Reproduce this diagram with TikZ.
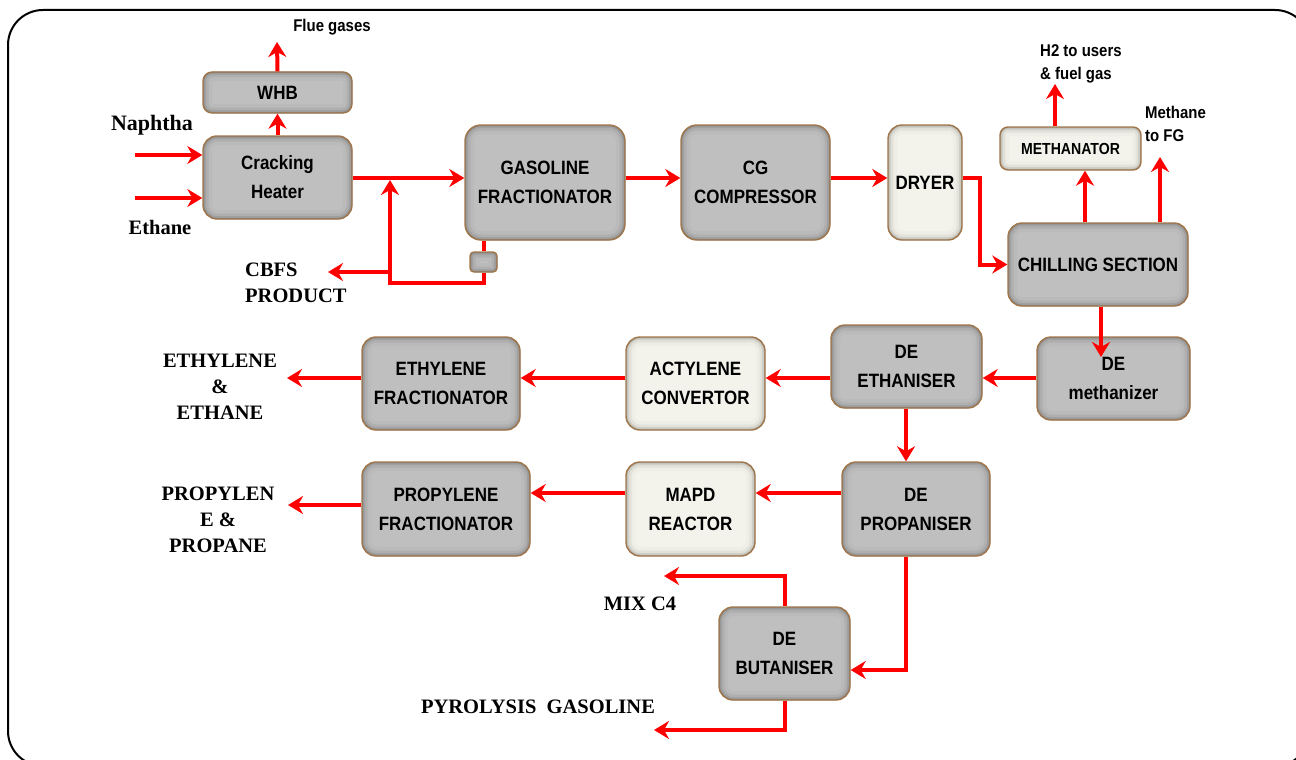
\documentclass[tikz,border=0pt]{standalone}
\usepackage{fontspec}
\setmainfont{Liberation Serif}
\setsansfont{Liberation Sans}
\newfontfamily\narrowsans{Liberation Sans}[FakeStretch=0.88]
\usetikzlibrary{arrows.meta}
\definecolor{boxedge}{HTML}{A0764A}
\definecolor{gbase}{HTML}{BFBFBF}
\definecolor{gA}{HTML}{BABABA}
\definecolor{gB}{HTML}{AFAFAF}
\definecolor{gC}{HTML}{A0A0A0}
\definecolor{gD}{HTML}{8A8A8A}
\definecolor{pbase}{HTML}{F3F3EC}
\definecolor{pA}{HTML}{EEEEE7}
\definecolor{pB}{HTML}{E2E2DB}
\definecolor{pC}{HTML}{CFCFC8}
\definecolor{pD}{HTML}{B2B2AC}
\newcommand\boxfont{\narrowsans\bfseries\fontsize{19.3}{29}\selectfont}
\tikzset{
  shadebox/.style 2 args={rounded corners=#1, draw=boxedge, line width=1.4pt,
    fill=#2base, inner sep=0pt, align=center, font=\boxfont,
    path picture={\foreach \w/\c in {18/#2A,11/#2B,6/#2C,2.5/#2D}{
      \draw[line width=\w pt,draw=\c,rounded corners=#1]
        (path picture bounding box.south west) rectangle (path picture bounding box.north east);}}},
  gbox/.style={shadebox={#1}{g}},
  pbox/.style={shadebox={#1}{p}},
  flow/.style={draw=red, line width=4pt, -{Stealth[length=15pt,width=18pt,inset=5pt]}},
  pipe/.style={draw=red, line width=4pt},
  slab/.style={font=\narrowsans\bfseries\fontsize{17}{23}\selectfont, inner sep=0pt, align=left},
  rlab/.style={font=\rmfamily\bfseries\fontsize{20.5}{26}\selectfont, inner sep=0pt, align=center}
}
\begin{document}
\begin{tikzpicture}[x=1pt,y=-1pt]
\useasboundingbox (0,0) rectangle (1296,760);
\draw[line width=2pt, rounded corners=35pt] (8,10) rectangle (1310,766);

% boxes
\node[gbox=9pt, minimum width=149pt, minimum height=41pt] (whb) at (277.5,92.5) {WHB};
\node[gbox=14pt, minimum width=149pt, minimum height=83pt] (ch) at (277.5,177.5) {Cracking\\Heater};
\node[gbox=16pt, minimum width=160pt, minimum height=115pt] (gf) at (545,182.5) {GASOLINE\\FRACTIONATOR};
\node[gbox=4pt, minimum width=27pt, minimum height=20pt] (pmp) at (483.5,262) {};
\node[gbox=16pt, minimum width=149pt, minimum height=115pt] (cg) at (755.5,182.5) {CG\\COMPRESSOR};
\node[pbox=14pt, minimum width=74pt, minimum height=115pt] (dry) at (925,182.5) {DRYER};
\node[pbox=8pt, minimum width=141pt, minimum height=43pt, font=\narrowsans\bfseries\fontsize{16}{20}\selectfont] (meth) at (1070.5,148.5) {METHANATOR};
\node[gbox=14pt, minimum width=180pt, minimum height=83pt] (chill) at (1098,264.5) {CHILLING SECTION};
\node[gbox=14pt, minimum width=153pt, minimum height=83pt] (dm) at (1113.5,378.5) {DE\\methanizer};
\node[gbox=14pt, minimum width=151pt, minimum height=83pt] (de) at (906.5,366.5) {DE\\ETHANISER};
\node[pbox=14pt, minimum width=139pt, minimum height=93pt] (act) at (695.5,383.5) {ACTYLENE\\CONVERTOR};
\node[gbox=14pt, minimum width=158pt, minimum height=93pt] (ef) at (441,383.5) {ETHYLENE\\FRACTIONATOR};
\node[gbox=14pt, minimum width=148pt, minimum height=94pt] (dp) at (916,509) {DE\\PROPANISER};
\node[pbox=14pt, minimum width=129pt, minimum height=94pt] (mapd) at (690.5,509) {MAPD\\REACTOR};
\node[gbox=14pt, minimum width=168pt, minimum height=94pt] (pf) at (446,509) {PROPYLENE\\FRACTIONATOR};
\node[gbox=14pt, minimum width=131pt, minimum height=93pt] (db) at (784.5,653.5) {DE\\BUTANISER};

% labels
\node[slab] (lflue) at (332,27) {Flue gases};
\node[rlab, font=\rmfamily\bfseries\fontsize{22}{26}\selectfont] (lnap) at (152,125) {Naphtha};
\node[rlab] (leth) at (160,227) {Ethane};
\node[rlab, anchor=west, align=left] (lcbfs) at (245,283) {CBFS\\PRODUCT};
\node[slab, anchor=west] (lh2) at (1040,64) {H2 to users\\\& fuel gas};
\node[slab, anchor=west] (lmet) at (1145,124) {Methane\\to FG};
\node[rlab] (lee) at (220,387) {ETHYLENE\\\&\\ETHANE};
\node[rlab] (lpp) at (218,520) {PROPYLEN\\E \&\\PROPANE};
\node[rlab] (lmix) at (640,604) {MIX C4};
\node[rlab] (lpyro) at (538,707) {PYROLYSIS\ \ GASOLINE};

% coordinates
\coordinate (flue) at (277,42);
\coordinate (napin) at (135,155);
\coordinate (ethin) at (135,198);
\coordinate (jtop) at (390,180);
\coordinate (jbot) at (390,283);
\coordinate (jc) at (390,272);
\coordinate (cbfsend) at (328,272);
\coordinate (d1) at (980,178);
\coordinate (cm) at (1085,0);
\coordinate (h2end) at (1055,84);
\coordinate (metend) at (1160,157);
\coordinate (cdm) at (1101,357);
\coordinate (r1) at (0,378);
\coordinate (eout) at (287,378);
\coordinate (cp) at (906,0);
\coordinate (r2) at (0,493);
\coordinate (pfout) at (288,505);
\coordinate (r3) at (0,670);
\coordinate (cb) at (785,0);
\coordinate (r4) at (0,576);
\coordinate (mixend) at (664,576);
\coordinate (r5) at (0,730);
\coordinate (pyend) at (654,730);
\coordinate (r0) at (0,178);

% connectors
\draw[flow] (ch.north) -- (whb.south);
\draw[flow] (whb.north) -- (flue);
\draw[flow] (napin) -- (napin -| ch.west);
\draw[flow] (ethin) -- (ethin -| ch.west);
\draw[flow] (ch.east |- r0) -- (gf.west |- r0);
\draw[pipe] (gf.south -| pmp.center) -- (pmp.north);
\draw[flow] (pmp.south) |- (jbot) -- (jtop);
\draw[flow] (jc) -- (cbfsend);
\draw[flow] (gf.east |- r0) -- (cg.west |- r0);
\draw[flow] (cg.east |- r0) -- (dry.west |- r0);
\draw[flow] (dry.east |- d1) -- (d1) |- (chill.west);
\draw[flow] (chill.north -| cm) -- (meth.south -| cm);
\draw[flow] (meth.north -| h2end) -- (h2end);
\draw[flow] (chill.north -| metend) -- (metend);
\draw[flow] (chill.south -| cdm) -- (cdm);
\draw[flow] (dm.west |- r1) -- (de.east |- r1);
\draw[flow] (de.west |- r1) -- (act.east |- r1);
\draw[flow] (act.west |- r1) -- (ef.east |- r1);
\draw[flow] (ef.west |- r1) -- (eout);
\draw[flow] (de.south -| cp) -- (dp.north -| cp);
\draw[flow] (dp.west |- r2) -- (mapd.east |- r2);
\draw[flow] (mapd.west |- r2) -- (pf.east |- r2);
\draw[flow] (pf.west |- pfout) -- (pfout);
\draw[flow] (dp.south -| cp) -- (cp |- r3) -- (db.east |- r3);
\draw[flow] (db.north -| cb) -- (cb |- r4) -- (mixend);
\draw[flow] (db.south -| cb) -- (cb |- r5) -- (pyend);
\end{tikzpicture}
\end{document}
